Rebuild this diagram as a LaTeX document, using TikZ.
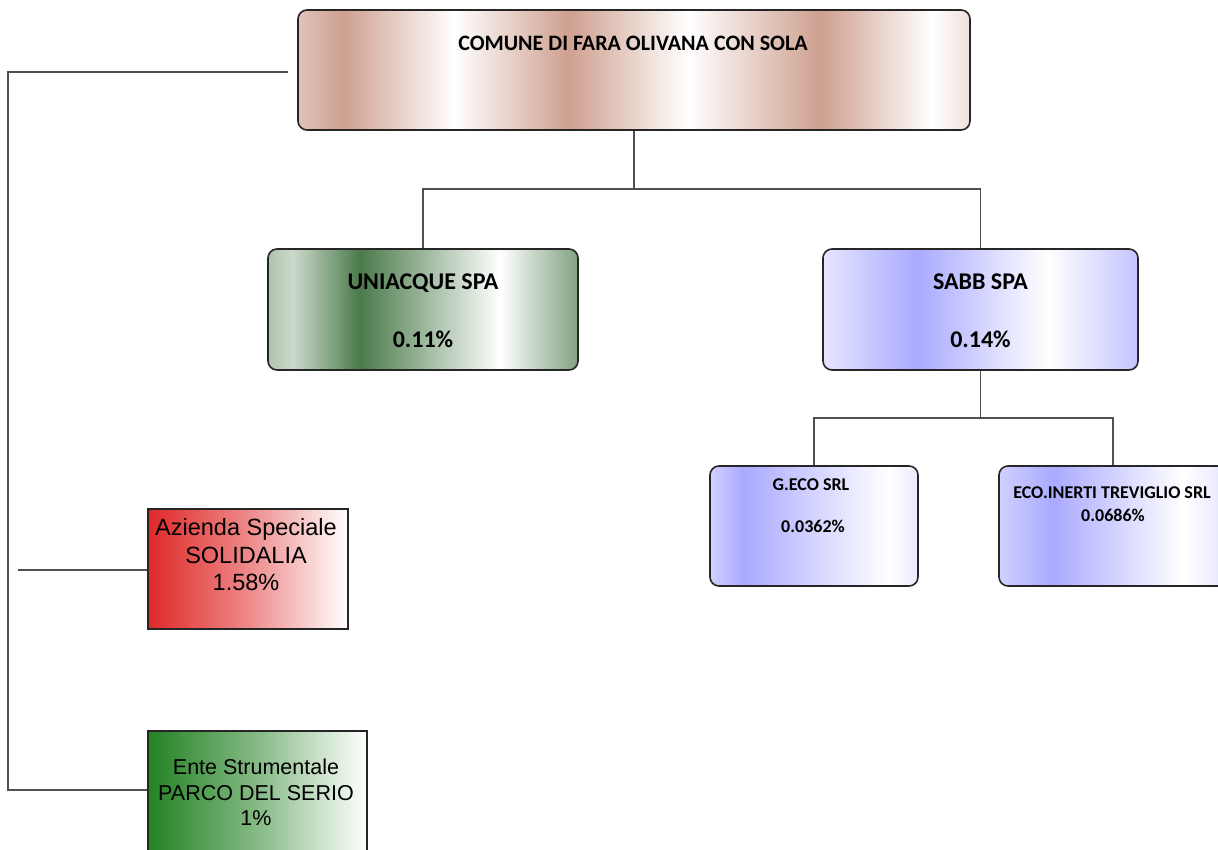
\documentclass[tikz,border=0pt]{standalone}
\usepackage{fontspec}
\setmainfont{Carlito}
\newfontfamily\arialf{Liberation Sans}
\definecolor{cu}{RGB}{206,160,143}
\definecolor{gd}{RGB}{74,122,74}
\definecolor{bl}{RGB}{170,170,255}
\definecolor{rd}{RGB}{224,40,40}
\definecolor{pg}{RGB}{35,130,35}
\definecolor{ln}{RGB}{80,80,80}
\pgfdeclarehorizontalshading{coppersh}{100bp}{color(0bp)=(cu!62!white); color(25bp)=(cu!62!white); color(28.35bp)=(cu); color(36.6bp)=(white); color(45.15bp)=(cu); color(54bp)=(white); color(63.9bp)=(cu); color(72.15bp)=(white); color(75bp)=(cu!32!white); color(100bp)=(cu!32!white)}
\pgfdeclarehorizontalshading{unish}{100bp}{color(0bp)=(gd!45!white); color(25bp)=(gd!45!white); color(29bp)=(gd!28!white); color(39.85bp)=(gd); color(62.4bp)=(white); color(75bp)=(gd!70!white); color(100bp)=(gd!70!white)}
\pgfdeclarehorizontalshading{sabbsh}{100bp}{color(0bp)=(bl!30!white); color(25bp)=(bl!30!white); color(40bp)=(bl); color(60.7bp)=(white); color(75bp)=(bl!70!white); color(100bp)=(bl!70!white)}
\pgfdeclarehorizontalshading{gecosh}{100bp}{color(0bp)=(bl!55!white); color(25bp)=(bl!55!white); color(33bp)=(bl); color(68bp)=(white); color(75bp)=(bl!25!white); color(100bp)=(bl!25!white)}
\pgfdeclarehorizontalshading{ecosh}{100bp}{color(0bp)=(bl!55!white); color(25bp)=(bl!55!white); color(36.85bp)=(bl); color(65.35bp)=(white); color(75bp)=(bl!30!white); color(100bp)=(bl!30!white)}
\pgfdeclarehorizontalshading{parcosh}{100bp}{color(0bp)=(pg); color(25bp)=(pg); color(50bp)=(pg!55!white); color(75bp)=(white); color(100bp)=(white)}
\pgfdeclarehorizontalshading{solsh}{100bp}{color(0bp)=(rd); color(25bp)=(rd); color(50bp)=(rd!55!white); color(75bp)=(white); color(100bp)=(white)}
\begin{document}
\begin{tikzpicture}[x=1pt,y=-1pt,
  rbox/.style={draw=black!85,line width=1.6pt,rounded corners=9pt,inner sep=0pt},
  sbox/.style={draw=black!85,line width=1.6pt,inner sep=0pt},
  conn/.style={draw=ln,line width=1.2pt},
  bigt/.style={font=\fontsize{22}{26}\selectfont\bfseries,inner sep=0pt,anchor=base},
  midt/.style={font=\fontsize{24}{28}\selectfont\bfseries,inner sep=0pt,anchor=base},
  smt/.style={font=\fontsize{18}{22}\selectfont\bfseries,inner sep=0pt,anchor=base},
  art/.style={align=center,inner sep=0pt}]
\useasboundingbox (0,0) rectangle (1218,850);
\clip (0,0) rectangle (1218,850);
% boxes
\node[rbox,shading=coppersh,minimum width=672pt,minimum height=120pt] (top) at (634,70) {};
\node[rbox,shading=unish,minimum width=310pt,minimum height=121pt] (uni) at (423,309.5) {};
\node[rbox,shading=sabbsh,minimum width=315pt,minimum height=121pt] (sabb) at (980.5,309.5) {};
\node[rbox,shading=gecosh,minimum width=208pt,minimum height=120pt] (geco) at (814,526) {};
\node[rbox,shading=ecosh,minimum width=228pt,minimum height=120pt] (eco) at (1113,526) {};
\node[sbox,shading=solsh,minimum width=200pt,minimum height=120pt] (sol) at (248,569) {};
\node[sbox,shading=parcosh,minimum width=219pt,minimum height=138pt] (parco) at (257.5,800) {};
% texts
\node[bigt] (topT) at (633,51) {COMUNE DI FARA OLIVANA CON SOLA};
\node[midt] (uniT) at (423,289.7) {UNIACQUE SPA};
\node[midt] (uniP) at (423,347.7) {0.11\%};
\node[midt] (sabbT) at (980.5,289.7) {SABB SPA};
\node[midt] (sabbP) at (980.5,347.7) {0.14\%};
\node[smt] (gecoT) at (811,490.8) {G.ECO SRL};
\node[smt] (gecoP) at (813,532.8) {0.0362\%};
\node[smt] (ecoT) at (1112,498.8) {ECO.INERTI TREVIGLIO SRL};
\node[smt] (ecoP) at (1113,521.8) {0.0686\%};
\node[art,font=\arialf\fontsize{23.5}{27.5}\selectfont] (solT) at (246,555) {Azienda Speciale\\SOLIDALIA\\1.58\%};
\node[art,font=\arialf\fontsize{21.5}{25.5}\selectfont] (parcoT) at (256,792.5) {Ente Strumentale\\PARCO DEL SERIO\\1\%};
% connectors
\coordinate (bus1) at (634,189);
\coordinate (bus2) at (980.5,418);
\draw[conn] (top.south) -- (bus1);
\draw[conn] (uni.north) |- (bus1) -| (sabb.north);
\draw[conn] (sabb.south) -- (bus2);
\draw[conn] (geco.north) |- (bus2) -| (eco.north);
\coordinate (L1) at (288,72);
\coordinate (L2) at (8,72);
\coordinate (L3) at (8,790);
\coordinate (S1) at (18,570);
\draw[conn] (L1) -- (L2) -- (L3) -- (L3 -| parco.west);
\draw[conn] (S1) -- (S1 -| sol.west);
\end{tikzpicture}
\end{document}
